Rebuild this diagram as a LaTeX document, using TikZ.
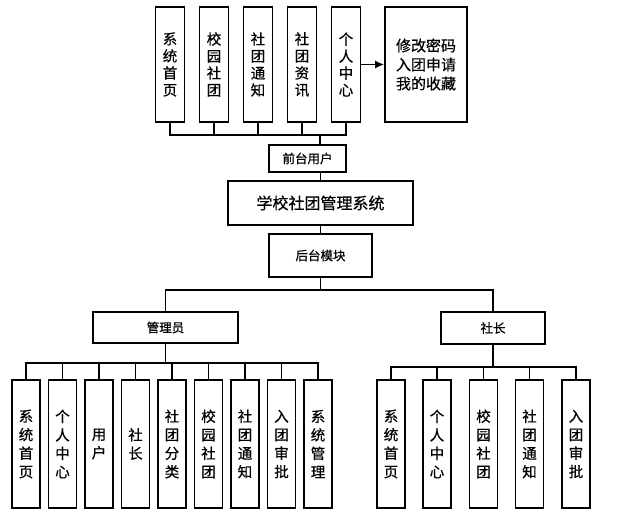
\documentclass[tikz,border=0pt]{standalone}
\usepackage{fontspec}
\setmainfont{Noto Sans CJK SC}[FakeBold=0.6]
\usetikzlibrary{arrows.meta}

\begin{document}
\begin{tikzpicture}[x=1pt, y=-1pt, line width=1.6pt,
  topbox/.style={draw, minimum width=29pt, minimum height=115pt, inner sep=0pt, align=center, font=\fontsize{14.5}{17}\selectfont},
  subbox/.style={draw, minimum width=28pt, minimum height=128pt, inner sep=0pt, align=center, font=\fontsize{14.5}{18.5}\selectfont},
  rolebox/.style={draw, inner sep=0pt, font=\fontsize{12.5}{14}\selectfont}]
\useasboundingbox (0,0) rectangle (626,519);

% Front-end modules
\node[topbox] (t1) at (170,64.5) {系\\统\\首\\页};
\node[topbox] (t2) at (214,64.5) {校\\园\\社\\团};
\node[topbox] (t3) at (258,64.5) {社\\团\\通\\知};
\node[topbox] (t4) at (302,64.5) {社\\团\\资\\讯};
\node[topbox] (t5) at (346,64.5) {个\\人\\中\\心};
\node[draw, minimum width=82pt, minimum height=115pt, align=center, font=\fontsize{15}{19}\selectfont] (more) at (426,64.5) {修改密码\\入团申请\\我的收藏};
\draw[-{Latex[length=9pt,width=8pt]}] (t5.east) -- (more.west);

% Centre column
\node[rolebox, minimum width=77pt, minimum height=27pt] (front) at (307.5,158.5) {前台用户};
\node[draw, minimum width=185pt, minimum height=44pt, font=\fontsize{16}{18}\selectfont] (sys) at (320.5,203) {学校社团管理系统};
\node[rolebox, minimum width=103pt, minimum height=43pt] (back) at (320.5,255.5) {后台模块};

\coordinate (topbus) at (320,135);
\draw (t1.south) |- (topbus) (t2.south) |- (topbus) (t3.south) |- (topbus)
      (t4.south) |- (topbus) (t5.south) |- (topbus);
\draw (topbus) -- (topbus |- front.north);
\draw (sys.north) -- (sys.north |- front.south);
\draw (sys.south) -- (back.north);

% Back-end roles
\node[rolebox, minimum width=145pt, minimum height=31pt] (admin) at (165.5,327.5) {管理员};
\node[rolebox, minimum width=104pt, minimum height=32pt] (leader) at (493,328) {社长};
\coordinate (split) at (320.5,290);
\draw (back.south) -- (split);
\draw (admin.north) |- (split) -| (leader.north);

% Admin functions
\node[subbox] (a1) at (26,444) {系\\统\\首\\页};
\node[subbox] (a2) at (62.5,444) {个\\人\\中\\心};
\node[subbox] (a3) at (99,444) {用\\户};
\node[subbox] (a4) at (135.5,444) {社\\长};
\node[subbox] (a5) at (172,444) {社\\团\\分\\类};
\node[subbox] (a6) at (208.5,444) {校\\园\\社\\团};
\node[subbox] (a7) at (245,444) {社\\团\\通\\知};
\node[subbox] (a8) at (281.5,444) {入\\团\\审\\批};
\node[subbox] (a9) at (318,444) {系\\统\\管\\理};
\coordinate (abus) at (165.5,363);
\draw (admin.south) -- (abus);
\draw (a1.north) |- (abus) (a2.north) |- (abus) (a3.north) |- (abus)
      (a4.north) |- (abus) (a5.north) |- (abus) (a6.north) |- (abus)
      (a7.north) |- (abus) (a8.north) |- (abus) (a9.north) |- (abus);

% Club leader functions
\node[subbox] (l1) at (391,444) {系\\统\\首\\页};
\node[subbox] (l2) at (437,444) {个\\人\\中\\心};
\node[subbox] (l3) at (483.5,444) {校\\园\\社\\团};
\node[subbox] (l4) at (529.5,444) {社\\团\\通\\知};
\node[subbox] (l5) at (576,444) {入\\团\\审\\批};
\coordinate (lbus) at (493,367);
\draw (leader.south) -- (lbus);
\draw (l1.north) |- (lbus) (l2.north) |- (lbus) (l3.north) |- (lbus)
      (l4.north) |- (lbus) (l5.north) |- (lbus);

\end{tikzpicture}
\end{document}
